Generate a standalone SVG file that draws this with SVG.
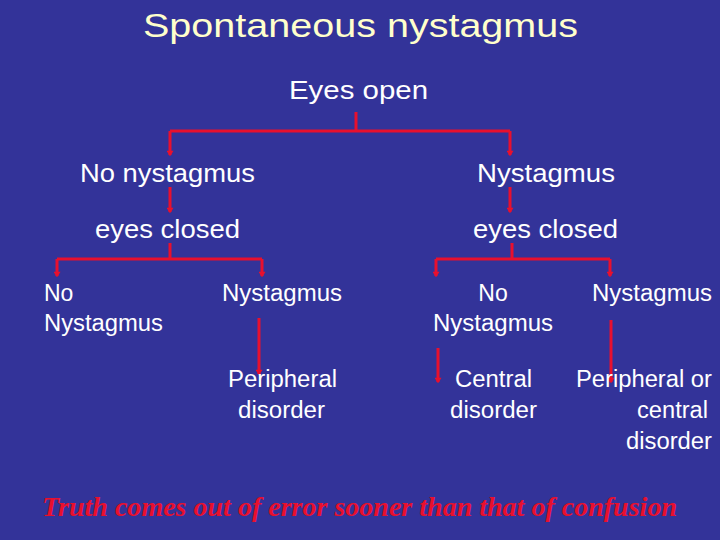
<svg xmlns="http://www.w3.org/2000/svg" width="720" height="540" viewBox="0 0 720 540">
<defs>
<style>
.t{font-family:"Liberation Sans",Arial,sans-serif;fill:#ffffff}
.l2{font-size:26px}
.l3{font-size:23px}
.c{stroke:#e8102e;stroke-width:3;fill:none}
</style>
<marker id="ah" viewBox="0 0 10 10" refX="5" refY="8" markerWidth="7" markerHeight="7" orient="0" markerUnits="userSpaceOnUse">
<path d="M0,2 L5,10 L10,2 Z" fill="#e8102e"/>
</marker>
</defs>
<rect width="720" height="540" fill="#333399"/>
<text x="143" y="37" font-family="Liberation Sans,Arial,sans-serif" font-size="33" fill="#ffffcc" textLength="435" lengthAdjust="spacingAndGlyphs">Spontaneous nystagmus</text>
<g id="connectors">
<path class="c" d="M356,112 V131 M170,131 H510"/>
<path class="c" d="M170,131 V155" marker-end="url(#ah)"/>
<path class="c" d="M510,131 V155" marker-end="url(#ah)"/>
<path class="c" d="M170,187 V212" marker-end="url(#ah)"/>
<path class="c" d="M510,187 V212" marker-end="url(#ah)"/>
<path class="c" d="M170,243 V259 M57,259 H262"/>
<path class="c" d="M57,259 V276" marker-end="url(#ah)"/>
<path class="c" d="M262,259 V276" marker-end="url(#ah)"/>
<path class="c" d="M512,243 V259 M436,259 H610"/>
<path class="c" d="M436,259 V276" marker-end="url(#ah)"/>
<path class="c" d="M610,259 V276" marker-end="url(#ah)"/>
<path class="c" d="M259,318 V374" stroke-width="4" marker-end="url(#ah)"/>
<path class="c" d="M438,348 V382" stroke-width="2.5" marker-end="url(#ah)"/>
<path class="c" d="M611,320 V382" stroke-width="3" marker-end="url(#ah)"/>
</g>
<g id="eyes-open"><text class="t" x="289" y="99" font-size="25" textLength="139" lengthAdjust="spacingAndGlyphs">Eyes open</text></g>
<g id="no-nystagmus"><text class="t l2" x="80" y="182" textLength="175" lengthAdjust="spacingAndGlyphs">No nystagmus</text></g>
<g id="nystagmus"><text class="t l2" x="477" y="182" textLength="138" lengthAdjust="spacingAndGlyphs">Nystagmus</text></g>
<g id="eyes-closed-left"><text class="t l2" x="95" y="238" textLength="145" lengthAdjust="spacingAndGlyphs">eyes closed</text></g>
<g id="eyes-closed-right"><text class="t l2" x="473" y="238" textLength="145" lengthAdjust="spacingAndGlyphs">eyes closed</text></g>
<g id="ll-no-nystagmus">
<text class="t l3" x="44" y="301">No</text>
<text class="t l3" x="44" y="331" textLength="119" lengthAdjust="spacingAndGlyphs">Nystagmus</text>
</g>
<g id="lr-nystagmus"><text class="t l3" x="222" y="301" textLength="120" lengthAdjust="spacingAndGlyphs">Nystagmus</text></g>
<g id="rl-no-nystagmus">
<text class="t l3" x="493" y="301" text-anchor="middle">No</text>
<text class="t l3" x="433" y="331" textLength="120" lengthAdjust="spacingAndGlyphs">Nystagmus</text>
</g>
<g id="rr-nystagmus"><text class="t l3" x="592" y="301" textLength="120" lengthAdjust="spacingAndGlyphs">Nystagmus</text></g>
<g id="peripheral-disorder">
<text class="t l3" x="228" y="387" textLength="109" lengthAdjust="spacingAndGlyphs">Peripheral</text>
<text class="t l3" x="238" y="418" textLength="87" lengthAdjust="spacingAndGlyphs">disorder</text>
</g>
<g id="central-disorder">
<text class="t l3" x="455" y="387" textLength="77" lengthAdjust="spacingAndGlyphs">Central</text>
<text class="t l3" x="450" y="418" textLength="87" lengthAdjust="spacingAndGlyphs">disorder</text>
</g>
<g id="peripheral-or-central">
<text class="t l3" x="576" y="387" textLength="136" lengthAdjust="spacingAndGlyphs">Peripheral or</text>
<text class="t l3" x="637" y="418" textLength="71" lengthAdjust="spacingAndGlyphs">central</text>
<text class="t l3" x="626" y="449" textLength="86" lengthAdjust="spacingAndGlyphs">disorder</text>
</g>
<text x="42" y="516" font-family="Liberation Serif,'Times New Roman',serif" font-size="27" font-weight="bold" font-style="italic" fill="#e8102e" textLength="635" lengthAdjust="spacingAndGlyphs">Truth comes out of error sooner than that of confusion</text>
</svg>
